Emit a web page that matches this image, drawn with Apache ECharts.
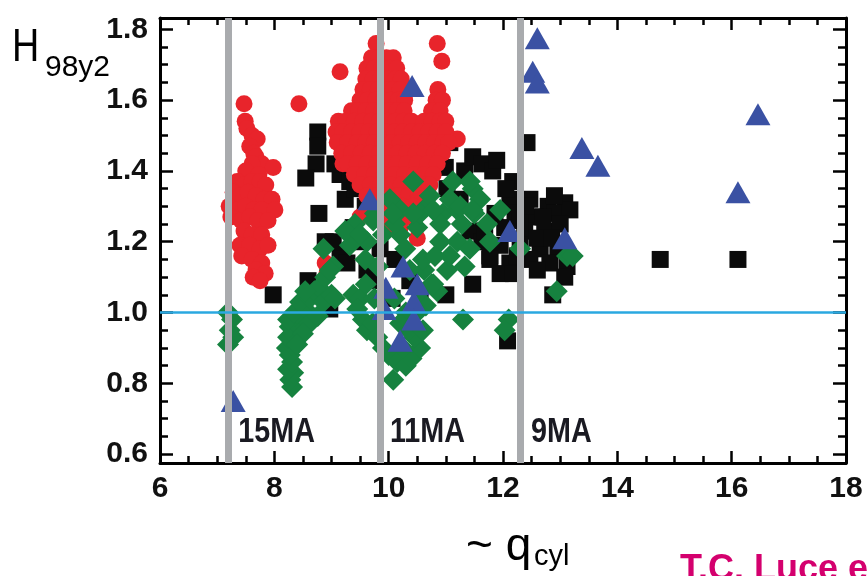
<!DOCTYPE html>
<html>
<head>
<meta charset="utf-8">
<script src="https://cdn.jsdelivr.net/npm/echarts@6/dist/echarts.min.js"></script>
<style>
  html, body { margin: 0; padding: 0; background: #fff; }
  #chart { width: 867px; height: 576px; }
</style>
</head>
<body>
<div id="chart"></div>
<script>
// Confinement factor H98y2 against cylindrical safety factor q_cyl.

// Tick values
const xMajor = [6, 8, 10, 12, 14, 16, 18];
const yMajor = [0.6, 0.8, 1.0, 1.2, 1.4, 1.6, 1.8];

// Plasma-current reference lines (q_cyl) and their names
const currentLinesQ = [7.195, 9.848, 12.315];
const currentLinesName = ['15MA', '11MA', '9MA'];
const referenceH = 1.0;

// Black squares
const blackPoints = [
  [7.98,1.05],[8.76,1.51],[8.76,1.47],[8.73,1.42],[8.55,1.38],[8.78,1.28],[8.89,1.20],[8.59,1.09],
  [8.97,1.01],[9.15,1.16],[9.03,1.20],[9.27,1.14],[9.15,1.39],[9.24,1.32],[9.32,1.37],[9.38,1.24],
  [9.50,1.20],[9.62,1.12],[9.73,1.09],[9.85,1.18],[10.11,1.15],[10.06,1.04],[10.37,1.09],[10.55,1.06],
  [11.00,1.05],[11.47,1.08],[9.41,1.35],[9.59,1.30],[9.71,1.28],[9.06,1.42],
  [11.07,1.48],[11.02,1.35],[10.99,1.41],[11.33,1.40],[11.47,1.44],[11.63,1.42],[11.82,1.40],[11.89,1.43],
  [12.17,1.37],[12.42,1.48],[11.25,1.32],[11.42,1.23],[11.63,1.20],[11.77,1.16],
  [12.12,1.32],[12.47,1.32],[12.79,1.30],[13.08,1.31],[11.86,1.28],[12.21,1.28],[12.56,1.27],[12.91,1.28],
  [13.17,1.29],[11.68,1.23],[12.03,1.24],[12.38,1.23],[12.73,1.23],[13.00,1.25],[11.95,1.19],[12.30,1.19],
  [12.65,1.18],[12.96,1.18],[11.77,1.15],[12.12,1.14],[12.47,1.15],[12.82,1.14],[13.12,1.13],[11.95,1.11],
  [12.18,1.11],[12.60,1.12],[13.08,1.10],[12.87,1.05],[12.08,0.92],[14.75,1.15],[16.11,1.15],
  [12.30,1.26],[12.60,1.21],[12.85,1.21],[12.40,1.30],[12.70,1.27],[12.25,1.16],[12.90,1.33],[12.05,1.35]
];

// Red circles
const redPoints = [
  // q ~ 7.2-8 group
  [7.47,1.59],[7.49,1.54],[7.52,1.52],[7.61,1.50],[7.70,1.49],[7.57,1.47],[7.64,1.45],[7.68,1.44],
  [7.78,1.42],[7.98,1.41],[7.61,1.42],[7.50,1.40],[7.73,1.39],[7.35,1.37],[7.47,1.36],[7.61,1.37],
  [7.75,1.37],[7.85,1.36],[7.28,1.34],[7.40,1.33],[7.54,1.34],[7.68,1.33],[7.82,1.32],[7.96,1.32],
  [7.21,1.30],[7.36,1.29],[7.50,1.30],[7.64,1.29],[7.78,1.29],[8.01,1.29],[7.24,1.27],[7.42,1.26],
  [7.57,1.27],[7.71,1.26],[7.89,1.26],[7.47,1.23],[7.61,1.22],[7.78,1.22],[7.40,1.19],[7.57,1.19],
  [7.75,1.18],[7.89,1.19],[7.43,1.16],[7.61,1.15],[7.78,1.14],[7.68,1.12],[7.84,1.11],[7.63,1.10],
  [7.75,1.09],
  // scattered high points
  [8.43,1.59],[9.15,1.68],[9.78,1.76],[10.85,1.76],[10.93,1.71],[11.20,1.49],[9.20,1.42],[9.50,1.27],
  [8.92,1.11],[8.89,1.14],[10.50,1.21],
  // q ~ 9-11 group
  [9.70,1.72],[9.83,1.72],[9.96,1.72],[10.08,1.72],
  [9.62,1.69],[9.75,1.69],[9.88,1.69],[10.01,1.69],[10.14,1.69],
  [9.60,1.66],[9.73,1.66],[9.86,1.66],[9.99,1.66],[10.12,1.66],[10.22,1.66],
  [9.55,1.63],[9.68,1.63],[9.82,1.63],[9.95,1.63],[10.08,1.63],[10.20,1.63],[10.86,1.63],
  [9.50,1.60],[9.63,1.60],[9.77,1.60],[9.91,1.60],[10.04,1.60],[10.17,1.60],[10.28,1.60],[10.83,1.60],[10.94,1.60],
  [9.35,1.57],[9.47,1.57],[9.60,1.57],[9.74,1.57],[9.88,1.57],[10.02,1.57],[10.15,1.57],[10.27,1.57],[10.75,1.57],[10.90,1.57],
  [9.12,1.54],[9.25,1.54],[9.40,1.54],[9.55,1.54],[9.70,1.54],[9.84,1.54],[9.98,1.54],[10.12,1.54],[10.26,1.54],[10.40,1.54],[10.62,1.54],[10.76,1.54],[10.90,1.54],[11.00,1.54],
  [9.08,1.51],[9.20,1.51],[9.35,1.51],[9.50,1.51],[9.65,1.51],[9.80,1.51],[9.95,1.51],[10.10,1.51],[10.25,1.51],[10.40,1.51],[10.55,1.51],[10.70,1.51],[10.85,1.51],[11.00,1.51],
  [9.10,1.48],[9.28,1.48],[9.45,1.48],[9.60,1.48],[9.75,1.48],[9.90,1.48],[10.05,1.48],[10.20,1.48],[10.35,1.48],[10.50,1.48],[10.65,1.48],[10.80,1.48],[10.95,1.48],[11.05,1.48],
  [9.18,1.45],[9.35,1.45],[9.52,1.45],[9.68,1.45],[9.84,1.45],[10.00,1.45],[10.16,1.45],[10.32,1.45],[10.48,1.45],[10.64,1.45],[10.80,1.45],[10.94,1.45],
  [9.28,1.42],[9.45,1.42],[9.62,1.42],[9.80,1.42],[9.98,1.42],[10.15,1.42],[10.32,1.42],[10.50,1.42],[10.68,1.42],[10.85,1.42],
  [9.40,1.39],[9.58,1.39],[9.75,1.39],[9.92,1.39],[10.10,1.39],[10.28,1.39],[10.46,1.39],[10.62,1.39],[10.78,1.39],
  [9.50,1.36],[9.68,1.36],[9.86,1.36],[10.04,1.36],[10.22,1.36],[10.40,1.36],[10.58,1.36],[10.72,1.36],
  [9.62,1.33],[9.80,1.33],[9.98,1.33],[10.16,1.33],[10.34,1.33],[10.52,1.33],
  [9.70,1.30],[9.88,1.30],[10.06,1.30],[10.24,1.30],[10.42,1.30],
  [9.75,1.27],[9.95,1.27],[10.15,1.27],[10.35,1.27],
  [10.00,1.24],[10.20,1.24]
];

// Green diamonds
const greenPoints = [
  [7.19,1.00],[7.26,0.98],[7.22,0.95],[7.28,0.93],[7.19,0.91],
  [8.31,0.79],[8.28,0.81],[8.33,0.83],[8.24,0.84],[8.31,0.86],[8.27,0.88],[8.22,0.90],[8.30,0.91],
  [8.24,0.93],[8.33,0.94],[8.27,0.96],[8.38,0.97],[8.24,0.98],[8.45,0.99],[8.35,1.00],[8.54,1.01],
  [8.45,1.03],[8.62,1.04],[8.55,0.96],[8.70,1.06],[8.78,1.07],[8.62,0.97],[8.50,0.94],[8.40,0.91],
  [8.76,0.99],[8.86,1.03],[9.00,1.05],[8.89,1.10],[9.03,1.13],[8.86,1.18],[8.97,1.12],[9.06,1.04],
  [8.54,1.06],
  [9.38,1.05],[9.50,1.04],[9.55,0.98],[9.45,1.01],[9.62,0.95],[9.72,0.97],[9.80,0.93],[9.90,0.90],
  [10.08,0.81],[10.00,0.88],[10.15,0.86],[10.30,0.85],[10.40,0.87],[10.55,0.90],[10.45,0.93],[10.35,0.95],
  [10.60,0.95],[10.50,1.00],[10.65,1.02],[10.55,1.06],[10.30,1.00],[10.20,0.97],[10.10,1.04],[9.75,1.04],
  [9.60,1.08],[10.75,1.08],[10.62,1.12],[10.85,1.06],[10.25,0.90],
  [11.30,0.98],[12.10,0.98],[12.03,0.95],
  [10.43,1.37],[11.47,1.35],[11.12,1.37],[10.20,1.29],[10.67,1.30],[10.95,1.28],[11.20,1.29],[11.72,1.25],
  [9.62,1.20],[9.90,1.22],[10.20,1.22],[10.50,1.24],[10.90,1.20],[11.20,1.20],[11.42,1.18],[12.30,1.18],
  [13.12,1.16],[12.94,1.06],[10.60,1.15],[11.02,1.12],[10.78,1.08],[9.32,1.19],[9.41,1.25],[9.76,1.28],
  [10.02,1.32],[10.11,1.25],[10.29,1.18],[10.55,1.28],[10.72,1.33],[10.90,1.25],[11.07,1.32],[11.28,1.25],
  [11.50,1.28],[11.77,1.20],[11.33,1.13],[11.07,1.16],[11.60,1.32],[11.95,1.29],[9.81,1.13],[9.59,1.15],
  [9.24,1.23],[10.37,1.12],[10.81,1.16],[11.42,1.37],[9.50,1.22],[9.73,1.26],[10.08,1.28],[10.43,1.28],
  [10.78,1.29],[11.25,1.30],[11.47,1.29],[13.22,1.16]
];

// Blue triangles
const bluePoints = [
  [10.41,1.64],[7.28,0.75],[12.60,1.775],[12.52,1.68],[12.60,1.65],[13.38,1.465],[13.66,1.415],
  [16.46,1.56],[16.11,1.34],[13.08,1.21],[12.12,1.23],[9.67,1.32],[10.25,1.13],[10.50,1.08],
  [9.95,1.07],[9.92,1.01],[10.44,1.03],[10.44,0.98],[10.20,0.92]
];

// Minor tick positions between the labelled ticks
const xMinor = [];
for (let v = 6; v <= 18.0001; v += 0.5) xMinor.push(+v.toFixed(2));
const yMinor = [];
for (let v = 0.6; v <= 1.8001; v += 0.05) yMinor.push(+v.toFixed(2));

const X_MIN = 6, X_MAX = 18, Y_MIN = 0.575, Y_MAX = 1.832;
const INK = '#111';
const NARROW = 0.82;   // horizontal squeeze for the condensed lettering
const tickStyle = { color: '#000', width: 2.5 };

function makeX(position, values, len, withLine, withLabel) {
  return {
    type: 'value', position: position, min: X_MIN, max: X_MAX,
    axisLine: { show: withLine, onZero: false, lineStyle: { color: '#000', width: 3 } },
    axisTick: { show: true, inside: true, length: len, customValues: values, lineStyle: tickStyle },
    axisLabel: withLabel ? {
      show: true, customValues: xMajor, margin: 11,
      fontFamily: 'Liberation Sans', fontWeight: 'bold', fontSize: 30, color: INK,
      formatter: v => String(v)
    } : { show: false },
    splitLine: { show: false }
  };
}
function makeY(position, values, len, withLine, withLabel) {
  return {
    type: 'value', position: position, min: Y_MIN, max: Y_MAX,
    axisLine: { show: withLine, onZero: false, lineStyle: { color: '#000', width: 3 } },
    axisTick: { show: true, inside: true, length: len, customValues: values, lineStyle: tickStyle },
    axisLabel: withLabel ? {
      show: true, customValues: yMajor, margin: 12,
      fontFamily: 'Liberation Sans', fontWeight: 'bold', fontSize: 30, color: INK,
      formatter: v => v.toFixed(1)
    } : { show: false },
    splitLine: { show: false }
  };
}

const chart = echarts.init(document.getElementById('chart'), null, { renderer: 'canvas' });

const markerStyle = color => ({ color: color, opacity: 1 });

const option = {
  animation: false,
  backgroundColor: '#fff',
  grid: { left: 160, right: 21, top: 18, bottom: 113, containLabel: false, outerBoundsMode: 'none' },
  xAxis: [
    makeX('bottom', xMajor, 12, true, true),
    makeX('bottom', xMinor, 7, false, false),
    makeX('top', xMajor, 12, true, false),
    makeX('top', xMinor, 7, false, false)
  ],
  yAxis: [
    makeY('left', yMajor, 13, true, true),
    makeY('left', yMinor, 8, false, false),
    makeY('right', yMajor, 13, true, false),
    makeY('right', yMinor, 8, false, false)
  ],
  series: [
    {
      type: 'scatter', data: [], silent: true,
      markLine: {
        silent: true, symbol: 'none', animation: false,
        label: { show: false },
        data: currentLinesQ.map(q => ({ xAxis: q, lineStyle: { color: '#a9abae', width: 7, type: 'solid', opacity: 1 } }))
          .concat([{ yAxis: referenceH, lineStyle: { color: '#2aa8e0', width: 2.5, type: 'solid', opacity: 1 } }])
      }
    },
    {
      name: 'black', type: 'scatter', symbol: 'rect', symbolSize: 17, silent: true,
      itemStyle: markerStyle('#0b0b0b'), data: blackPoints
    },
    {
      name: 'red', type: 'scatter', symbol: 'circle', symbolSize: 17, silent: true,
      itemStyle: markerStyle('#e8242b'), data: redPoints
    },
    {
      name: 'green', type: 'scatter', symbol: 'diamond', symbolSize: [22, 22], silent: true,
      itemStyle: markerStyle('#16823f'), data: greenPoints
    },
    {
      name: 'blue', type: 'scatter', symbol: 'triangle', symbolSize: [25, 22], silent: true,
      itemStyle: markerStyle('#3a51a3'), data: bluePoints
    },
    {
      // current labels beside each reference line
      name: 'currents', type: 'custom', silent: true,
      data: currentLinesQ.map((q, i) => [q, 0.662, i]),
      renderItem: (params, api) => {
        const p = api.coord([api.value(0), api.value(1)]);
        return {
          type: 'text', x: p[0] + 10, y: p[1], scaleX: NARROW,
          style: {
            text: currentLinesName[api.value(2)],
            font: 'bold 35px "Liberation Sans"', fill: '#1a1a22', verticalAlign: 'middle'
          }
        };
      }
    }
  ],
  graphic: [
    { type: 'text', x: 12, y: 48, scaleX: NARROW, style: { text: 'H', font: '46px "Liberation Sans"', fill: '#000', verticalAlign: 'middle' } },
    { type: 'text', x: 45, y: 68, style: { text: '98y2', font: '30px "Liberation Sans"', fill: '#000', verticalAlign: 'middle' } },
    { type: 'text', x: 466, y: 547, style: { text: '~ q', font: '46px "Liberation Sans"', fill: '#000', verticalAlign: 'middle' } },
    { type: 'text', x: 534, y: 557, style: { text: 'cyl', font: '29px "Liberation Sans"', fill: '#000', verticalAlign: 'middle' } },
    { type: 'text', x: 680, y: 570, style: { text: 'T.C. Luce et al.', font: 'bold 36px "Liberation Sans"', fill: '#d4006e', verticalAlign: 'middle' } }
  ]
};

chart.setOption(option);
</script>
</body>
</html>
